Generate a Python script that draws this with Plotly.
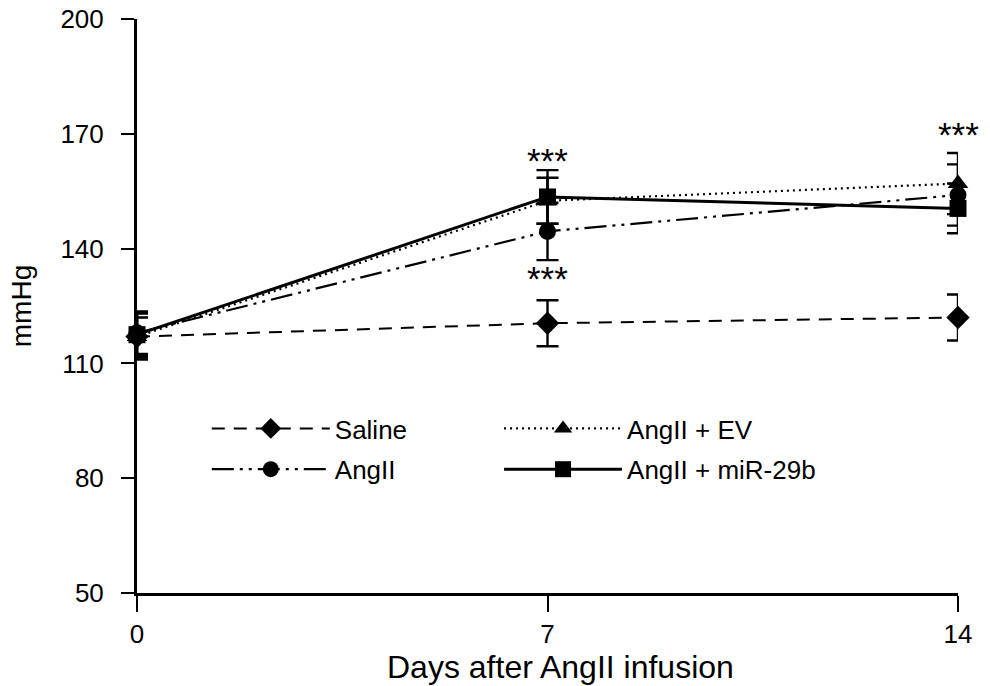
import plotly.graph_objects as go

days = [0, 7, 14]
saline = [117, 120.5, 122]
saline_err = [6, 6, 6]
angii = [118, 144.5, 154]
angii_err = [5.5, 7.5, 8]
ev = [117, 152.5, 157]
ev_err = [5, 6, 8]
mir = [117.5, 153.5, 150.5]
mir_err = [6, 7, 6.5]

star_x = [7, 7, 14, 14.12]
star_y = [162.9, 132.1, 169.7, 137.8]
star_text = ["***", "***", "***", "***"]

x_title = "Days after AngII infusion"
y_title = "mmHg"

FONT = "Liberation Sans, Arial, sans-serif"

def series(name, y, err, symbol, size, dash, width, legend):
    return go.Scatter(
        x=days, y=y, name=name, mode="lines+markers",
        legendgroup=name,
        line=dict(color="black", width=width, dash=dash),
        marker=dict(symbol=symbol, size=size, color="black"),
        error_y=dict(type="data", array=err, visible=True, color="black", thickness=2.4, width=11),
        cliponaxis=False, legend=legend,
    )

fig = go.Figure()
fig.add_trace(series("Saline", saline, saline_err, "diamond", 18, "13px,9px", 2, "legend"))
fig.add_trace(series("AngII", angii, angii_err, "circle", 17, "22px,6px,3px,6px,3px,6px", 2.2, "legend"))
fig.add_trace(series("AngII + EV", ev, ev_err, "triangle-up", 18, "2px,4px", 2.2, "legend2"))
fig.add_trace(series("AngII + miR-29b", mir, mir_err, "square", 17, "solid", 3, "legend2"))

for x, y, t in zip(star_x, star_y, star_text):
    fig.add_annotation(x=x, y=y, text=t, showarrow=False,
                       font=dict(family=FONT, size=35, color="black"))

fig.add_annotation(x=0.516, y=-0.1289, xref="paper", yref="paper", text=x_title,
                   showarrow=False, xanchor="center", yanchor="middle",
                   font=dict(family=FONT, size=32, color="black"))

legend_common = dict(yanchor="top", xanchor="left", bgcolor="rgba(0,0,0,0)",
                     font=dict(size=26), itemwidth=118, traceorder="grouped",
                     tracegroupgap=4, y=0.3275)

fig.update_layout(
    width=990, height=686,
    paper_bgcolor="white", plot_bgcolor="white",
    margin=dict(l=137, r=32, t=19, b=93, autoexpand=False),
    font=dict(family=FONT, size=26, color="black"),
    xaxis=dict(range=[0, 14], tickvals=days, ticktext=["0", "7", "14"], automargin=False,
               showgrid=False, zeroline=False, showline=True, linecolor="black",
               linewidth=3, ticks="outside", ticklen=16, tickwidth=2, tickcolor="black",
               ticklabelstandoff=0, ticklabeloverflow="allow",
               tickfont=dict(size=26)),
    yaxis=dict(range=[50, 200], tickvals=[50, 80, 110, 140, 170, 200], automargin=False,
               showgrid=False, zeroline=False, showline=True, linecolor="black",
               linewidth=3, ticks="outside", ticklen=13, tickwidth=2, tickcolor="black",
               ticklabelstandoff=12, ticklabeloverflow="allow",
               title=dict(text=y_title, font=dict(size=28), standoff=21),
               tickfont=dict(size=26)),
    legend=dict(x=0.085, **legend_common),
    legend2=dict(x=0.441, **legend_common),
    showlegend=True,
)

fig.write_html("out.html", config={"displayModeBar": False},
               post_script="document.body.style.margin='0';document.body.style.overflow='hidden';")
